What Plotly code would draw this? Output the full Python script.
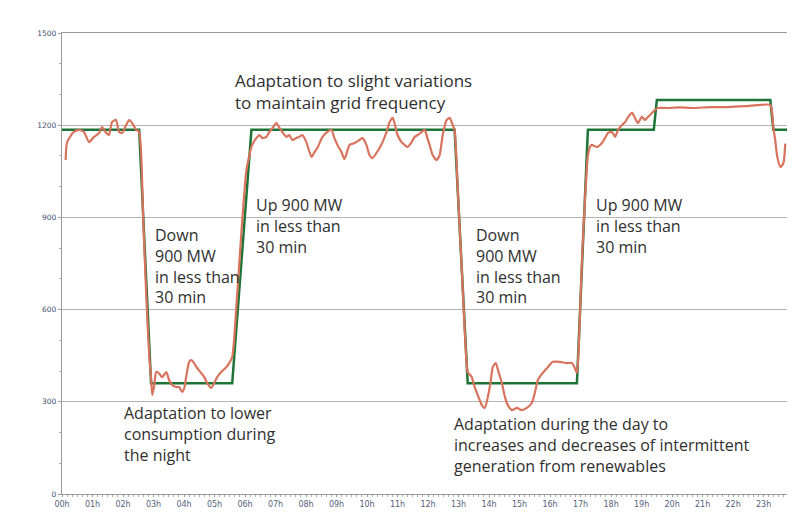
import plotly.graph_objects as go

# Actual consumption (red) - hours and MW
red_hours = [0.12, 0.16, 0.30, 0.39, 0.56, 0.72, 0.89, 1.05, 1.22, 1.31, 1.45, 1.54, 1.64, 1.77, 1.87, 1.97,
             2.10, 2.20, 2.30, 2.43, 2.53, 2.66, 2.76, 2.86, 2.92, 2.96, 3.02, 3.09, 3.19, 3.28, 3.42, 3.51,
             3.61, 3.74, 3.84, 3.94, 4.01, 4.07, 4.17, 4.24, 4.33, 4.43, 4.56, 4.66, 4.76, 4.89, 4.99, 5.09,
             5.22, 5.39, 5.48, 5.58, 5.71, 5.88, 6.04, 6.14, 6.21, 6.37, 6.47, 6.57, 6.70, 6.80, 6.90, 7.03,
             7.13, 7.22, 7.36, 7.45, 7.55, 7.68, 7.78, 7.88, 8.01, 8.18, 8.28, 8.37, 8.54, 8.70, 8.83, 8.93,
             9.03, 9.16, 9.26, 9.43, 9.59, 9.75, 9.85, 9.98, 10.08, 10.18, 10.31, 10.41, 10.51, 10.64, 10.74,
             10.84, 10.90, 11.00, 11.13, 11.23, 11.33, 11.46, 11.56, 11.66, 11.79, 11.89, 11.95, 12.05, 12.15,
             12.28, 12.38, 12.48, 12.61, 12.71, 12.81, 12.87, 12.97, 13.07, 13.17, 13.23, 13.30, 13.43, 13.53,
             13.63, 13.76, 13.86, 13.96, 14.06, 14.12, 14.22, 14.29, 14.42, 14.52, 14.61, 14.75, 14.91, 15.07,
             15.24, 15.40, 15.50, 15.60, 15.76, 15.93, 16.09, 16.32, 16.55, 16.72, 16.81, 16.88, 16.95, 17.04,
             17.14, 17.24, 17.31, 17.37, 17.54, 17.70, 17.80, 17.90, 18.03, 18.13, 18.23, 18.36, 18.46, 18.56,
             18.69, 18.78, 18.88, 19.01, 19.11, 19.21, 19.34, 19.44, 19.54, 19.84, 20.26, 20.69, 21.25, 21.81,
             22.40, 22.89, 23.22, 23.28, 23.32, 23.38, 23.45, 23.55, 23.65, 23.71]
red_mw = [1087, 1142, 1168, 1178, 1185, 1178, 1145, 1162, 1175, 1194, 1175, 1168, 1210, 1217, 1178, 1175,
          1200, 1217, 1207, 1185, 1178, 900, 650, 450, 380, 322, 350, 397, 392, 380, 397, 371,
          355, 348, 348, 332, 345, 381, 430, 436, 426, 410, 394, 381, 361, 345, 361, 381,
          397, 413, 426, 445, 600, 850, 1050, 1100, 1130, 1158, 1168, 1158, 1162, 1178, 1191, 1207,
          1191, 1178, 1162, 1168, 1152, 1158, 1162, 1168, 1145, 1097, 1113, 1126, 1162, 1178, 1185, 1158,
          1136, 1113, 1090, 1136, 1142, 1152, 1158, 1136, 1103, 1093, 1110, 1126, 1145, 1178, 1210,
          1224, 1207, 1168, 1145, 1136, 1129, 1145, 1162, 1168, 1178, 1185, 1168, 1136, 1103,
          1087, 1103, 1168, 1217, 1224, 1200, 1185, 1000, 800, 600, 480, 397, 381, 348,
          322, 290, 280, 316, 371, 413, 426, 404, 361, 316, 290, 273, 280, 273,
          280, 296, 329, 371, 394, 413, 430, 430, 426, 426, 410, 394, 500, 750,
          950, 1100, 1130, 1136, 1129, 1142, 1158, 1175, 1178, 1162, 1185, 1201, 1210, 1227,
          1240, 1224, 1207, 1227, 1217, 1227, 1240, 1250, 1256, 1256, 1258, 1256, 1259, 1259,
          1262, 1266, 1266, 1240, 1194, 1152, 1097, 1064, 1077, 1140]

# Planned production (green step)
green_hours = [0.0, 2.53, 2.92, 5.58, 6.21, 12.87, 13.30, 16.88, 17.24, 19.40, 19.50, 23.22, 23.32, 23.80]
green_mw = [1185, 1185, 360, 360, 1185, 1185, 360, 360, 1185, 1185, 1282, 1282, 1185, 1185]

x_tick_vals = list(range(24))
x_tick_text = [f"{h:02d}h" for h in range(24)]
y_tick_vals = [0, 300, 600, 900, 1200, 1500]

annotations_text = [
    ("Adaptation to slight variations<br>to maintain grid frequency", 5.60, 1311, 17),
    ("Down<br>900 MW<br>in less than<br>30 min", 2.98, 742, 16),
    ("Up 900 MW<br>in less than<br>30 min", 6.30, 872, 16),
    ("Down<br>900 MW<br>in less than<br>30 min", 13.49, 742, 16),
    ("Up 900 MW<br>in less than<br>30 min", 17.43, 872, 16),
    ("Adaptation to lower<br>consumption during<br>the night", 1.96, 195, 16),
    ("Adaptation during the day to<br>increases and decreases of intermittent<br>generation from renewables", 12.77, 158, 16),
]

fig = go.Figure()
fig.add_trace(go.Scatter(x=green_hours, y=green_mw, mode="lines",
                         line=dict(color="#1d7436", width=2.5), hoverinfo="skip"))
fig.add_trace(go.Scatter(x=red_hours, y=red_mw, mode="lines",
                         line=dict(color="#d8735d", width=2.2, shape="spline", smoothing=0.6),
                         hoverinfo="skip"))

for txt, xh, yv, fs in annotations_text:
    fig.add_annotation(x=xh, y=yv, xref="x", yref="y", text=txt, showarrow=False,
                       xanchor="left", yanchor="middle", align="left",
                       font=dict(family="Open Sans, Noto Sans, sans-serif", size=fs, color="#2f2f2f"))

fig.update_layout(
    width=787, height=509,
    margin=dict(l=54, r=7, t=25, b=23, autoexpand=False),
    paper_bgcolor="white", plot_bgcolor="white",
    showlegend=False,
    xaxis=dict(range=[0, 23.8], tickvals=x_tick_vals, ticktext=x_tick_text, automargin=False,
               showgrid=False, zeroline=False, showline=True, linecolor="#9a9a9a", linewidth=1.2,
               mirror=True, ticks="outside", ticklen=2, tickcolor="#9a9a9a",
               minor=dict(dtick=1 / 6, ticks="outside", ticklen=2, tickcolor="#b0b0b0"),
               tickfont=dict(family="DejaVu Sans", size=8, color="#55607a")),
    yaxis=dict(range=[0, 1500], tickvals=y_tick_vals, automargin=False,
               showgrid=True, gridcolor="#b4b4b4", gridwidth=1.2, zeroline=False,
               showline=True, linecolor="#9a9a9a", linewidth=1.2, mirror=True,
               ticks="outside", ticklen=3, tickcolor="#9a9a9a",
               minor=dict(dtick=100, ticks="outside", ticklen=2, tickcolor="#b0b0b0", showgrid=False),
               tickfont=dict(family="DejaVu Sans", size=7.5, color="#3d4d70")),
)

fig.write_html("out.html")
